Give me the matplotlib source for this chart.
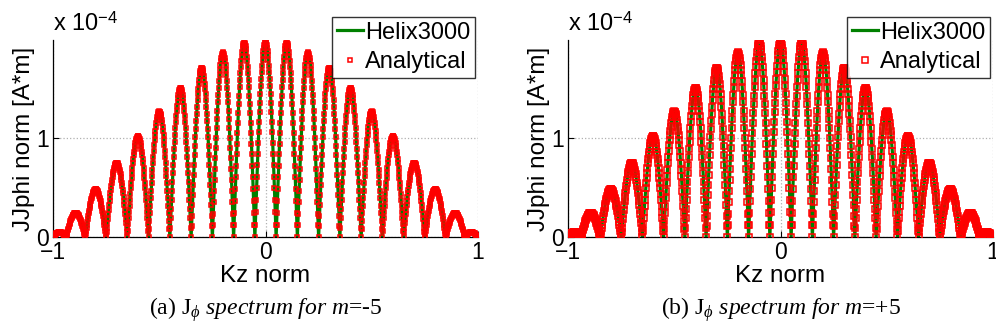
import matplotlib
matplotlib.use('Agg')
import matplotlib.pyplot as plt
import numpy as np

plt.rcParams['font.family'] = ['Liberation Sans', 'DejaVu Sans']
plt.rcParams['mathtext.fontset'] = 'custom'
plt.rcParams['mathtext.rm'] = 'Liberation Serif'
plt.rcParams['mathtext.it'] = 'Liberation Serif:italic'

# zero crossings of the spectrum (Kz norm)
zeros = [-1.0, -0.938, -0.848, -0.75, -0.65, -0.55, -0.45, -0.35, -0.25, -0.15, -0.05,
         0.05, 0.15, 0.25, 0.35, 0.45, 0.55, 0.65, 0.75, 0.848, 0.938, 1.0]
# peak height of each lobe between two zeros (x 1e-4 A*m)
peaks = [0.05, 0.245, 0.485, 0.75, 1.02, 1.27, 1.51, 1.71, 1.865, 1.96, 1.975,
         1.96, 1.865, 1.71, 1.51, 1.27, 1.02, 0.75, 0.485, 0.245, 0.05]
n_samples = 1001

panels = ['(a)', '(b)']
m_values = ['-5', '+5']
marker_sizes = [2.4, 4.0]

green = '#008000'
red = '#ff0000'


def spectrum(kz):
    out = np.zeros_like(kz)
    for a, b, h in zip(zeros[:-1], zeros[1:], peaks):
        sel = (kz >= a) & (kz <= b)
        out[sel] = h * np.sin(np.pi * (kz[sel] - a) / (b - a))
    return out * 1e-4


kz = np.linspace(-1, 1, n_samples)
jphi = spectrum(kz)

fig = plt.figure(figsize=(9.96, 3.36), dpi=100)
lefts = [53 / 996, 568 / 996]

for i in range(2):
    ax = fig.add_axes([lefts[i], 1 - 237 / 336, 425 / 996, 197 / 336])
    ax.plot(kz, jphi, color=green, lw=2.3, label='Helix3000', zorder=2)
    ax.plot(kz, jphi, ls='none', marker='s', ms=marker_sizes[i], mfc='none',
            mec=red, mew=1.1, label='Analytical', zorder=3)
    ax.set_xlim(-1, 1)
    ax.set_ylim(0, 1.99e-4)
    ax.set_xticks([-1, 0, 1])
    ax.set_yticks([0, 1e-4])
    ax.set_xticklabels(['\u22121', '0', '1'])
    ax.set_yticklabels(['0', '1'])
    ax.grid(True, ls=':', color='#b0b0b0', lw=0.9)
    ax.spines['top'].set_visible(False)
    ax.spines['right'].set_visible(False)
    ax.spines['left'].set_linewidth(0.9)
    ax.spines['bottom'].set_linewidth(0.9)
    ax.tick_params(direction='in', length=4, width=0.8, labelsize=16.5, pad=3)
    ax.set_xlabel('Kz norm', fontsize=17.5)
    ax.set_ylabel('JJphi norm [A*m]', fontsize=17.5)
    ax.xaxis.set_label_coords(0.5, -0.14)
    ax.yaxis.set_label_coords(-0.042, 0.5)
    ax.text(0.0, 1.02, r'x 10$^{\mathregular{-4}}$', transform=ax.transAxes,
            fontsize=17, ha='left', va='bottom')
    leg = ax.legend(loc='upper right', bbox_to_anchor=(0.993, 1.117), fontsize=17,
                    frameon=True, fancybox=False, edgecolor='black',
                    handlelength=1.1, handletextpad=0.1, borderpad=0.2,
                    labelspacing=0.32, borderaxespad=0, markerscale=1.0)
    leg.get_frame().set_linewidth(1.0)
    ax.text(0.5, -0.37, panels[i] + r' J$_{\phi}$ $\mathit{spectrum\ for\ m}$=' + m_values[i],
            transform=ax.transAxes, ha='center', va='center', fontsize=17,
            family=['Liberation Serif', 'DejaVu Serif'])

fig.savefig('out.png', dpi=100)
